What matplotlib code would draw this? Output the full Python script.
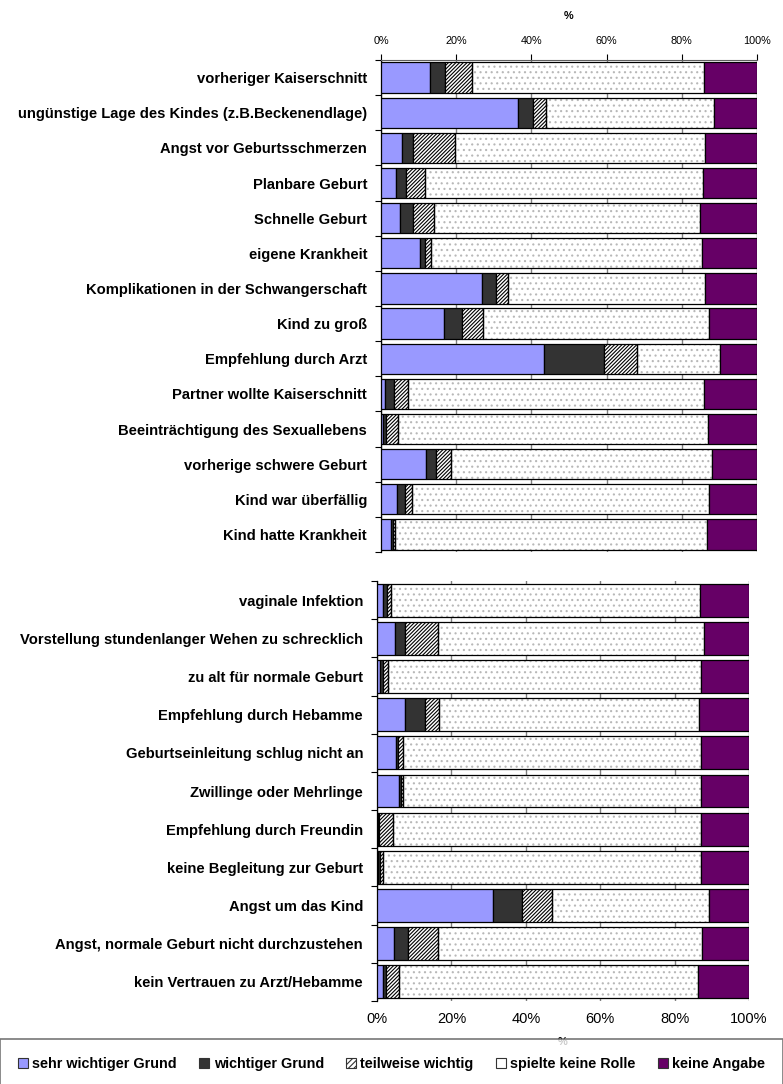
import matplotlib
matplotlib.use("Agg")
import matplotlib.pyplot as plt
from matplotlib.patches import Patch
import numpy as np

plt.rcParams['font.family'] = ['Liberation Sans', 'DejaVu Sans']
plt.rcParams['hatch.linewidth'] = 0.8

series = ["sehr wichtiger Grund", "wichtiger Grund", "teilweise wichtig",
          "spielte keine Rolle", "keine Angabe"]

cats_top = ["vorheriger Kaiserschnitt",
            "ungünstige Lage des Kindes (z.B.Beckenendlage)",
            "Angst vor Geburtsschmerzen", "Planbare Geburt", "Schnelle Geburt",
            "eigene Krankheit", "Komplikationen in der Schwangerschaft",
            "Kind zu groß", "Empfehlung durch Arzt",
            "Partner wollte Kaiserschnitt", "Beeinträchtigung des Sexuallebens",
            "vorherige schwere Geburt", "Kind war überfällig",
            "Kind hatte Krankheit"]
top_sehr = [13.0, 36.5, 5.5, 4.1, 5.1, 10.4, 26.9, 16.7, 43.3, 1.1, 0.4, 11.9, 4.2, 2.6]
top_wichtig = [4.1, 4.0, 2.9, 2.6, 3.3, 1.3, 3.6, 4.8, 16.1, 2.3, 0.9, 2.8, 2.2, 0.5]
top_teil = [7.1, 3.3, 11.3, 5.0, 5.7, 1.5, 3.2, 5.7, 8.7, 3.8, 3.2, 3.8, 1.9, 0.7]
top_keine = [61.7, 44.8, 66.6, 74.0, 70.7, 72.1, 52.5, 60.0, 22.0, 78.7, 82.4, 69.5, 79.0, 82.9]
top_na = [14.1, 11.4, 13.7, 14.3, 15.2, 14.7, 13.8, 12.8, 9.9, 14.1, 13.1, 12.0, 12.7, 13.3]

cats_bot = ["vaginale Infektion", "Vorstellung stundenlanger Wehen zu schrecklich",
            "zu alt für normale Geburt", "Empfehlung durch Hebamme",
            "Geburtseinleitung schlug nicht an", "Zwillinge oder Mehrlinge",
            "Empfehlung durch Freundin", "keine Begleitung zur Geburt",
            "Angst um das Kind", "Angst, normale Geburt nicht durchzustehen",
            "kein Vertrauen zu Arzt/Hebamme"]
bot_sehr = [1.7, 4.8, 0.8, 7.6, 5.2, 6.0, 0.4, 0.2, 31.1, 4.5, 1.5]
bot_wichtig = [1.1, 2.6, 0.8, 5.3, 0.5, 0.5, 0.2, 0.6, 7.9, 3.9, 0.9]
bot_teil = [1.0, 8.9, 1.4, 3.8, 1.2, 0.6, 3.6, 0.9, 8.1, 7.9, 3.6]
bot_keine = [83.1, 71.6, 84.1, 69.8, 80.2, 80.0, 83.0, 85.4, 42.1, 71.0, 80.3]
bot_na = [13.1, 12.1, 12.9, 13.5, 12.9, 12.9, 12.8, 12.9, 10.8, 12.7, 13.7]

ticks = [0, 20, 40, 60, 80, 100]
tick_labels = ["0%", "20%", "40%", "60%", "80%", "100%"]

C_SEHR = "#9999FF"
C_WICHTIG = "#333333"
C_NA = "#660066"
DIAG = "/////////"

W, H = 783, 1084
fig = plt.figure(figsize=(W / 100, H / 100), dpi=100)


def draw(ax, cats, vals, bar_h):
    n = len(cats)
    y = np.arange(n)
    left = np.zeros(n)
    kinds = ["sehr", "wichtig", "teil", "keine", "na"]
    for v, k in zip(vals, kinds):
        v = np.array(v)
        if k == "keine":
            ax.barh(y, v, left=left, height=bar_h, facecolor="white",
                    edgecolor="#b8b8b8", hatch="...", linewidth=0, zorder=2)
            ax.barh(y, v, left=left, height=bar_h, facecolor="none",
                    edgecolor="black", linewidth=0.9, zorder=3)
        elif k == "teil":
            ax.barh(y, v, left=left, height=bar_h, facecolor="white",
                    edgecolor="black", hatch=DIAG, linewidth=0.9, zorder=3)
        else:
            col = {"sehr": C_SEHR, "wichtig": C_WICHTIG, "na": C_NA}[k]
            ax.barh(y, v, left=left, height=bar_h, facecolor=col,
                    edgecolor="black", linewidth=0.9, zorder=3)
        left = left + v
    ax.set_xlim(0, 100)
    ax.set_ylim(n - 0.5, -0.5)
    ax.set_yticks(y)
    ax.set_yticklabels(cats, fontsize=10.6, fontweight="bold")
    ax.set_yticks(np.arange(n + 1) - 0.5, minor=True)
    ax.tick_params(axis="y", which="major", length=0, pad=10)
    ax.tick_params(axis="y", which="minor", length=4, width=0.8)
    ax.set_xticks(ticks)
    ax.set_xticklabels(tick_labels)
    ax.grid(axis="x", color="#808080", linewidth=1.0, zorder=0)
    ax.set_axisbelow(True)
    for s in ["right", "bottom", "top"]:
        ax.spines[s].set_visible(False)
    ax.spines["left"].set_color("black")
    ax.spines["left"].set_linewidth(0.9)


# top chart
ax1 = fig.add_axes([381 / W, 1 - 552 / H, 376 / W, 492 / H])
draw(ax1, cats_top, [top_sehr, top_wichtig, top_teil, top_keine, top_na], 0.86)
ax1.xaxis.tick_top()
ax1.xaxis.set_label_position("top")
ax1.spines["top"].set_visible(True)
ax1.spines["top"].set_color("#606060")
ax1.tick_params(axis="x", labelsize=7.8, length=4, pad=6, color="black")
ax1.set_xlabel("%", fontsize=7.8, fontweight="bold", labelpad=12)

# bottom chart
ax2 = fig.add_axes([377 / W, 1 - 1001 / H, 372 / W, 420 / H])
draw(ax2, cats_bot, [bot_sehr, bot_wichtig, bot_teil, bot_keine, bot_na], 0.86)
ax2.tick_params(axis="x", labelsize=10.5, length=0, pad=8)
ax2.set_xlabel("%", fontsize=8, fontweight="bold", labelpad=8)

handles = [
    Patch(facecolor=C_SEHR, edgecolor="#333333", linewidth=0.8),
    Patch(facecolor=C_WICHTIG, edgecolor="#333333", linewidth=0.8),
    Patch(facecolor="white", edgecolor="#333333", hatch="//////", linewidth=0.8),
    Patch(facecolor="white", edgecolor="#333333", linewidth=0.8),
    Patch(facecolor=C_NA, edgecolor="#333333", linewidth=0.8),
]
leg = fig.legend(handles, series, loc="lower left",
                 bbox_to_anchor=(0.0, -5 / H, 1.0, 40 / H), mode="expand",
                 ncol=5, prop={"weight": "bold", "size": 10.4},
                 handlelength=0.7, handleheight=0.7, handletextpad=0.3,
                 columnspacing=1.0, borderaxespad=0.0, frameon=True,
                 fancybox=False, edgecolor="#555555", borderpad=1.25)
leg.get_frame().set_linewidth(1.2)

fig.savefig("out.png", dpi=100)
